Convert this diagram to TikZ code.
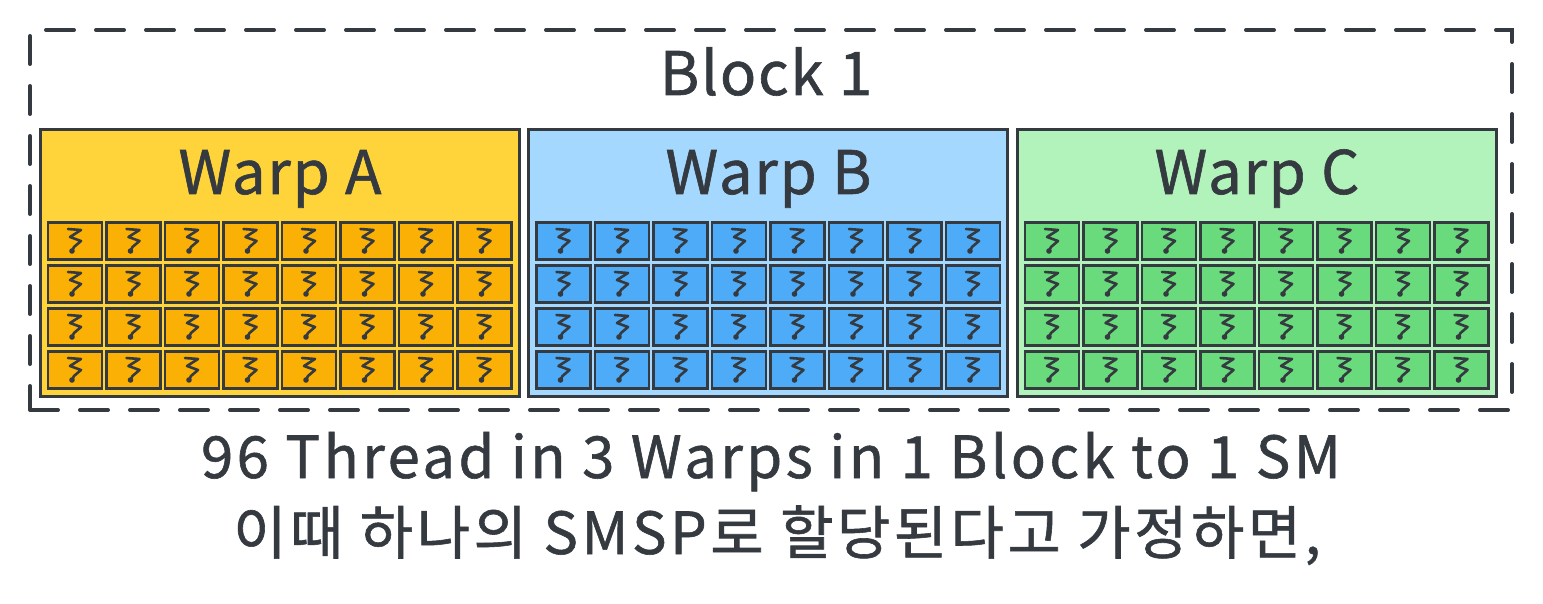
\documentclass[tikz,border=0pt]{standalone}
\usepackage{fontspec}
\setmainfont[FakeBold=1]{Noto Sans CJK KR}
\definecolor{ink}{HTML}{343A40}
\definecolor{warpyellow}{HTML}{FFD43B}
\definecolor{cellorange}{HTML}{FAB005}
\definecolor{warpblue}{HTML}{A5D8FF}
\definecolor{cellblue}{HTML}{4DABF7}
\definecolor{warpgreen}{HTML}{B2F2BB}
\definecolor{cellgreen}{HTML}{69DB7C}
\begin{document}
\begin{tikzpicture}[x=0.5pt, y=-0.5pt,
    blockbox/.style={draw=ink, line width=2pt, dash pattern=on 14pt off 11pt, line cap=round,
        minimum width=741pt, minimum height=190pt, inner sep=0pt},
    warpbox/.style={draw=ink, line width=1.5pt, minimum width=239.5pt, minimum height=133.5pt, inner sep=0pt},
    cellbox/.style={draw=ink, line width=1.4pt, minimum width=27pt, minimum height=18.5pt, inner sep=0pt},
    titletext/.style={text=ink, anchor=base, font=\fontsize{30}{34}\selectfont\addfontfeatures{LetterSpace=3}},
    captiontext/.style={text=ink, anchor=base, font=\fontsize{29}{32}\selectfont\addfontfeatures{LetterSpace=6}},
    pics/threadmark/.style={code={
        \draw[ink, line width=1.3pt, line cap=round, line join=round]
            (-7,-12) -- (6,-11) -- (-5,-4) -- (6,0) -- (-1,6) -- (-3,10);
        \fill[ink] (-3,10) circle (2.8);
    }}
]
    \useasboundingbox (0,0) rectangle (1543,604);

    % Block
    \node[blockbox] (block) at (771,220) {};
    \node[titletext] (blocktitle) at (766,95) {Block 1};

    % Warps with their threads
    \foreach \w/\dx/\wfill/\cfill in {A/0/warpyellow/cellorange, B/488.5/warpblue/cellblue, C/977/warpgreen/cellgreen} {
        \node[warpbox, fill=\wfill] (warp\w) at (279.5+\dx,263.5) {};
        \node[titletext] (title\w) at (280+\dx,194) {Warp \w};
        \foreach \r in {0,...,3}
            \foreach \c in {0,...,7} {
                \node[cellbox, fill=\cfill] (cell\w-\r-\c) at (75+58.5*\c+\dx,241+43*\r) {};
                \pic at (cell\w-\r-\c) {threadmark};
            }
    }

    % Caption
    \node[captiontext] (captionone) at (771,478) {96 Thread in 3 Warps in 1 Block to 1 SM};
    \node[captiontext] (captiontwo) at (777,554) {이때 하나의 SMSP로 할당된다고 가정하면,};
\end{tikzpicture}
\end{document}
